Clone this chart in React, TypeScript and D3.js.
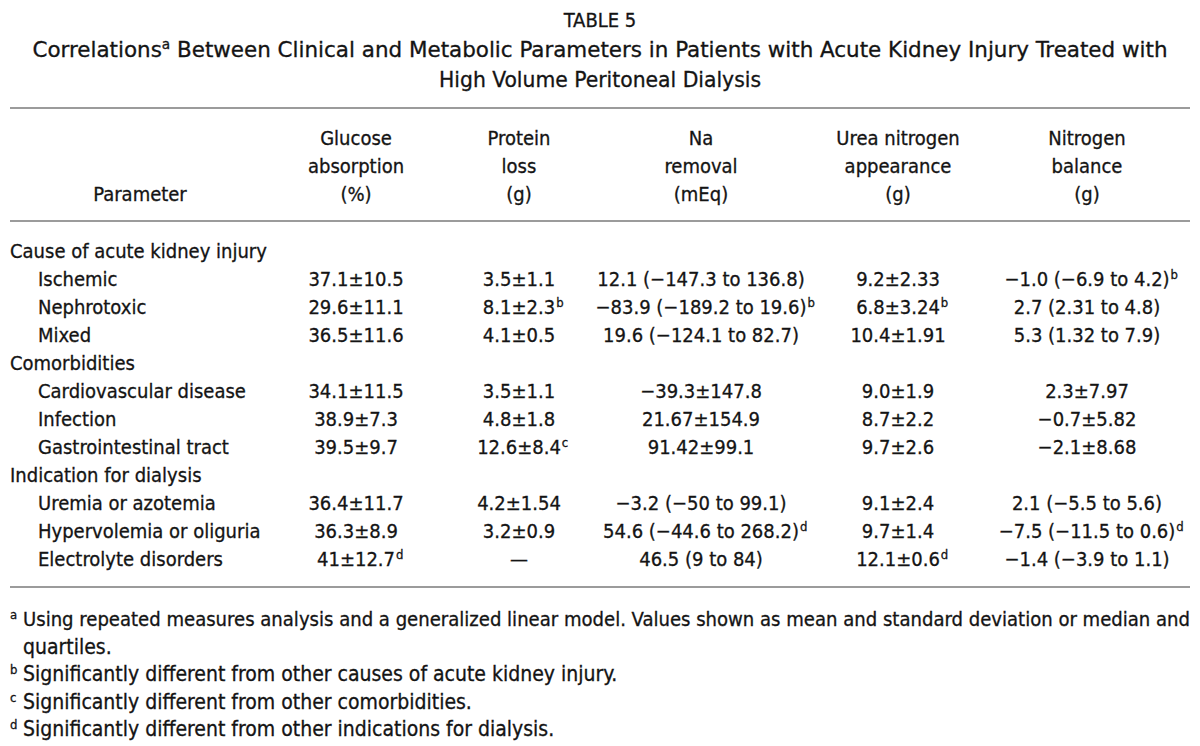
import React, { useEffect, useRef } from "react";
import * as d3 from "d3";

// ---------- data ----------
const titleLines = [
  "TABLE 5",
  "Correlations^a Between Clinical and Metabolic Parameters in Patients with Acute Kidney Injury Treated with",
  "High Volume Peritoneal Dialysis",
];

const parameterHeader = "Parameter";
const columnKeys = ["glucose", "protein", "na", "urea", "nitrogen"];
const columnHeaders = [
  ["Glucose", "absorption", "(%)"],
  ["Protein", "loss", "(g)"],
  ["Na", "removal", "(mEq)"],
  ["Urea nitrogen", "appearance", "(g)"],
  ["Nitrogen", "balance", "(g)"],
];

const rowLabels = [
  "Cause of acute kidney injury",
  "Ischemic",
  "Nephrotoxic",
  "Mixed",
  "Comorbidities",
  "Cardiovascular disease",
  "Infection",
  "Gastrointestinal tract",
  "Indication for dialysis",
  "Uremia or azotemia",
  "Hypervolemia or oliguria",
  "Electrolyte disorders",
];
const rowLevel = [0, 1, 1, 1, 0, 1, 1, 1, 0, 1, 1, 1];

const glucoseAbsorption = ["", "37.1±10.5", "29.6±11.1", "36.5±11.6", "", "34.1±11.5", "38.9±7.3", "39.5±9.7", "", "36.4±11.7", "36.3±8.9", "41±12.7^d"];
const proteinLoss = ["", "3.5±1.1", "8.1±2.3^b", "4.1±0.5", "", "3.5±1.1", "4.8±1.8", "12.6±8.4^c", "", "4.2±1.54", "3.2±0.9", "—"];
const naRemoval = ["", "12.1 (−147.3 to 136.8)", "−83.9 (−189.2 to 19.6)^b", "19.6 (−124.1 to 82.7)", "", "−39.3±147.8", "21.67±154.9", "91.42±99.1", "", "−3.2 (−50 to 99.1)", "54.6 (−44.6 to 268.2)^d", "46.5 (9 to 84)"];
const ureaNitrogenAppearance = ["", "9.2±2.33", "6.8±3.24^b", "10.4±1.91", "", "9.0±1.9", "8.7±2.2", "9.7±2.6", "", "9.1±2.4", "9.7±1.4", "12.1±0.6^d"];
const nitrogenBalance = ["", "−1.0 (−6.9 to 4.2)^b", "2.7 (2.31 to 4.8)", "5.3 (1.32 to 7.9)", "", "2.3±7.97", "−0.7±5.82", "−2.1±8.68", "", "2.1 (−5.5 to 5.6)", "−7.5 (−11.5 to 0.6)^d", "−1.4 (−3.9 to 1.1)"];
const columnValues = [glucoseAbsorption, proteinLoss, naRemoval, ureaNitrogenAppearance, nitrogenBalance];

const footnoteMarks = ["a", "", "b", "c", "d"];
const footnoteTexts = [
  "Using repeated measures analysis and a generalized linear model. Values shown as mean and standard deviation or median and",
  "quartiles.",
  "Significantly different from other causes of acute kidney injury.",
  "Significantly different from other comorbidities.",
  "Significantly different from other indications for dialysis.",
];

// ---------- layout ----------
const W = 1200;
const H = 746;
const FONT = "'DejaVu Sans Condensed', 'Liberation Sans Narrow', sans-serif";
const FS = 20;
const SUP = 13;
const INK = "#141414";
const RULE = "#7a7a7a";

export default function App() {
  const ref = useRef<SVGSVGElement | null>(null);

  useEffect(() => {
    const svg = d3.select(ref.current);
    svg.selectAll("*").remove();
    const g = svg
      .append("g")
      .attr("font-family", FONT)
      .attr("fill", INK)
      .attr("stroke", INK)
      .attr("stroke-width", 0.3);

    const xCol = d3.scaleOrdinal<string, number>().domain(columnKeys).range([356, 519, 701, 898, 1087]);
    const yRow = d3.scaleLinear().domain([0, rowLabels.length - 1]).range([258, 566]);
    const yHead = d3.scaleLinear().domain([0, 2]).range([145, 201]);
    const yTitle = d3.scaleLinear().domain([0, 2]).range([27, 87]);
    const yFoot = d3.scaleLinear().domain([0, footnoteTexts.length - 1]).range([626, 736]);

    const drawText = (
      x: number,
      y: number,
      s: string,
      anchor: "start" | "middle",
      size = FS,
      len?: number
    ) => {
      const parts = s.split(/\^(\w)/);
      if (parts.length === 1) {
        const t = g.append("text").attr("x", x).attr("y", y).attr("font-size", size).attr("text-anchor", anchor).text(s);
        if (len) t.attr("textLength", len).attr("lengthAdjust", "spacingAndGlyphs");
        return;
      }
      if (parts[2] && parts[2].length > 0) {
        const t = g.append("text").attr("x", x).attr("y", y).attr("font-size", size).attr("text-anchor", anchor);
        parts.forEach((p, i) => {
          if (i % 2 === 0) t.append("tspan").attr("dy", i === 0 ? 0 : 8).text(p);
          else t.append("tspan").attr("font-size", SUP + 1).attr("dy", -8).text(p);
        });
        if (len) t.attr("textLength", len).attr("lengthAdjust", "spacingAndGlyphs");
        return;
      }
      const base = g.append("text").attr("x", x).attr("y", y).attr("font-size", size).attr("text-anchor", anchor).text(parts[0]);
      const node = base.node() as SVGTextElement;
      const w = node.getComputedTextLength();
      const right = anchor === "middle" ? x + w / 2 : x + w;
      g.append("text").attr("x", right + 1).attr("y", y - 7).attr("font-size", SUP).text(parts[1]);
    };

    // title
    drawText(W / 2, yTitle(0), titleLines[0], "middle", 20);
    drawText(W / 2, yTitle(1), titleLines[1], "middle", 22, 1135);
    drawText(W / 2, yTitle(2), titleLines[2], "middle", 22, 322);

    // rules
    const rules = [108, 221, 587];
    g.selectAll("line.rule")
      .data(rules)
      .enter()
      .append("line")
      .attr("x1", 10)
      .attr("x2", 1190)
      .attr("y1", (d) => d)
      .attr("y2", (d) => d)
      .attr("stroke", RULE)
      .attr("stroke-width", 1.5);

    // header
    drawText(140, yHead(2), parameterHeader, "middle");
    columnKeys.forEach((k, ci) => {
      columnHeaders[ci].forEach((line, li) => drawText(xCol(k), yHead(li), line, "middle"));
    });

    // body
    rowLabels.forEach((lab, ri) => {
      drawText(rowLevel[ri] === 0 ? 10 : 38, yRow(ri), lab, "start");
      columnKeys.forEach((k, ci) => {
        const v = columnValues[ci][ri];
        if (v) drawText(xCol(k), yRow(ri), v, "middle");
      });
    });

    // footnotes
    footnoteTexts.forEach((t, i) => {
      if (footnoteMarks[i]) g.append("text").attr("x", 10).attr("y", yFoot(i) - 7).attr("font-size", SUP).text(footnoteMarks[i]);
      const tt = g.append("text").attr("x", 23).attr("y", yFoot(i)).attr("font-size", i === 0 ? 20 : 21).text(t);
      if (i === 0) tt.attr("textLength", 1167).attr("lengthAdjust", "spacingAndGlyphs");
    });
  }, []);

  return (
    <svg ref={ref} width={W} height={H} style={{ display: "block", position: "absolute", left: 0, top: 0, background: "#fff" }} />
  );
}
